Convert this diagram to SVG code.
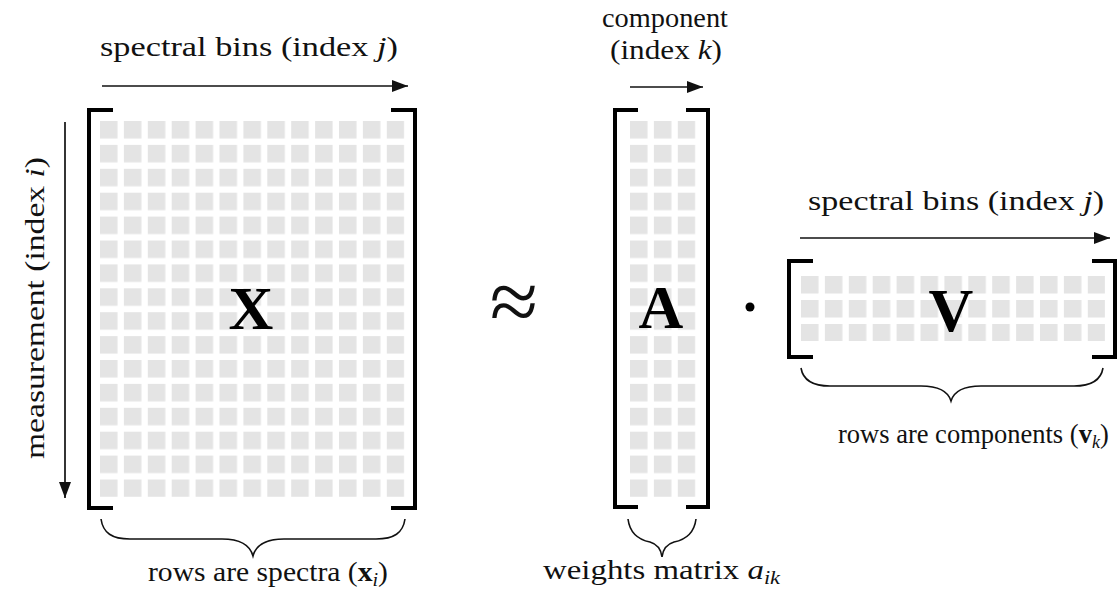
<svg xmlns="http://www.w3.org/2000/svg" width="1119" height="595" viewBox="0 0 1119 595">
<style>
.t{font-family:"Liberation Serif","Times New Roman",serif;font-size:28px;fill:#111}
.big{font-family:"Liberation Serif","Times New Roman",serif;font-size:62px;font-weight:bold;fill:#000}
.br{fill:none;stroke:#000;stroke-width:4;stroke-linejoin:miter;stroke-linecap:butt}
.ar{fill:none;stroke:#111;stroke-width:1.7}
.brace{fill:none;stroke:#111;stroke-width:1.6}
.cell{fill:#e4e4e4}
</style>
<defs>
<marker id="ah" markerUnits="userSpaceOnUse" markerWidth="17" markerHeight="12" refX="16" refY="6" orient="auto">
<path d="M0,0 L16,6 L0,12 z" fill="#111"/>
</marker>
<pattern id="cellsX" patternUnits="userSpaceOnUse" x="100" y="121" width="23.9" height="23.9"><rect class="cell" x="0" y="0" width="17.5" height="17.5"/></pattern>
<pattern id="cellsA" patternUnits="userSpaceOnUse" x="630" y="121" width="23.9" height="23.9"><rect class="cell" x="0" y="0" width="17.5" height="17.5"/></pattern>
<pattern id="cellsV" patternUnits="userSpaceOnUse" x="801" y="276" width="23.9" height="24"><rect class="cell" x="0" y="0" width="17.5" height="17.5"/></pattern>
</defs>
<rect width="1119" height="595" fill="#fff"/>

<g id="matrix-X">
<rect x="100" y="121" width="304.3" height="376" fill="url(#cellsX)"/>
<path class="br" d="M113,110 H89 V508 H113"/>
<path class="br" d="M391,110 H415 V508 H391"/>
<text class="big" x="251" y="329" text-anchor="middle">X</text>
</g>

<g id="approx">
<text x="514" y="331" text-anchor="middle" style="font-family:'Liberation Serif',serif;font-size:88px;fill:#111">≈</text>
</g>

<g id="matrix-A">
<rect x="630" y="121" width="65.5" height="376" fill="url(#cellsA)"/>
<path class="br" d="M638,110 H615 V507 H638"/>
<path class="br" d="M686,110 H708 V507 H686"/>
<text class="big" x="661" y="328" text-anchor="middle">A</text>
</g>

<g id="dot">
<circle cx="750" cy="307" r="4.5" fill="#000"/>
</g>

<g id="matrix-V">
<rect x="801" y="276" width="304" height="65" fill="url(#cellsV)"/>
<path class="br" d="M813,261 H789 V357 H813"/>
<path class="br" d="M1092,261 H1115 V357 H1092"/>
<text class="big" x="951" y="331" text-anchor="middle">V</text>
</g>

<g id="connectors">
<line class="ar" x1="102" y1="86" x2="408" y2="86" marker-end="url(#ah)"/>
<line class="ar" x1="630" y1="87" x2="703" y2="87" marker-end="url(#ah)"/>
<line class="ar" x1="800" y1="238" x2="1110" y2="238" marker-end="url(#ah)"/>
<line class="ar" x1="65" y1="122" x2="65" y2="498" marker-end="url(#ah)"/>
<path class="brace" d="M101,519 C103,533 112,539 130,539 H222 C240,539 250,545 253,556 C256,545 266,539 284,539 H376 C394,539 403,533 405,519"/>
<path class="brace" d="M628,519 C630,535 640,540 650,542 C657,544 661,549 662,557 C663,549 667,544 674,542 C684,540 694,535 696,519"/>
<path class="brace" d="M801,368 C803,380 812,386 830,386 H921 C939,386 948,391 951,401 C954,391 963,386 981,386 H1074 C1092,386 1101,380 1103,368"/>
</g>

<g id="labels">
<text class="t" x="100" y="56" textLength="298" lengthAdjust="spacingAndGlyphs">spectral bins (index <tspan font-style="italic">j</tspan>)</text>
<text class="t" x="602" y="27" textLength="126" lengthAdjust="spacingAndGlyphs">component</text>
<text class="t" x="610" y="59" textLength="112" lengthAdjust="spacingAndGlyphs">(index <tspan font-style="italic">k</tspan>)</text>
<text class="t" x="808" y="210" textLength="296" lengthAdjust="spacingAndGlyphs">spectral bins (index <tspan font-style="italic">j</tspan>)</text>
<text class="t" transform="translate(44,308) rotate(-90)" text-anchor="middle" textLength="302" lengthAdjust="spacingAndGlyphs">measurement (index <tspan font-style="italic">i</tspan>)</text>
<text class="t" x="148" y="581" textLength="240" lengthAdjust="spacingAndGlyphs">rows are spectra (<tspan font-weight="bold">x</tspan><tspan font-style="italic" font-size="19" dy="5">i</tspan><tspan dy="-5">)</tspan></text>
<text class="t" x="543" y="579" textLength="237" lengthAdjust="spacingAndGlyphs">weights matrix <tspan font-style="italic">a</tspan><tspan font-style="italic" font-size="19" dy="5">ik</tspan></text>
<text class="t" x="838" y="443" style="font-size:26.5px">rows are components (<tspan font-weight="bold">v</tspan><tspan font-style="italic" font-size="18" dy="5">k</tspan><tspan dy="-5">)</tspan></text>
</g>
</svg>
